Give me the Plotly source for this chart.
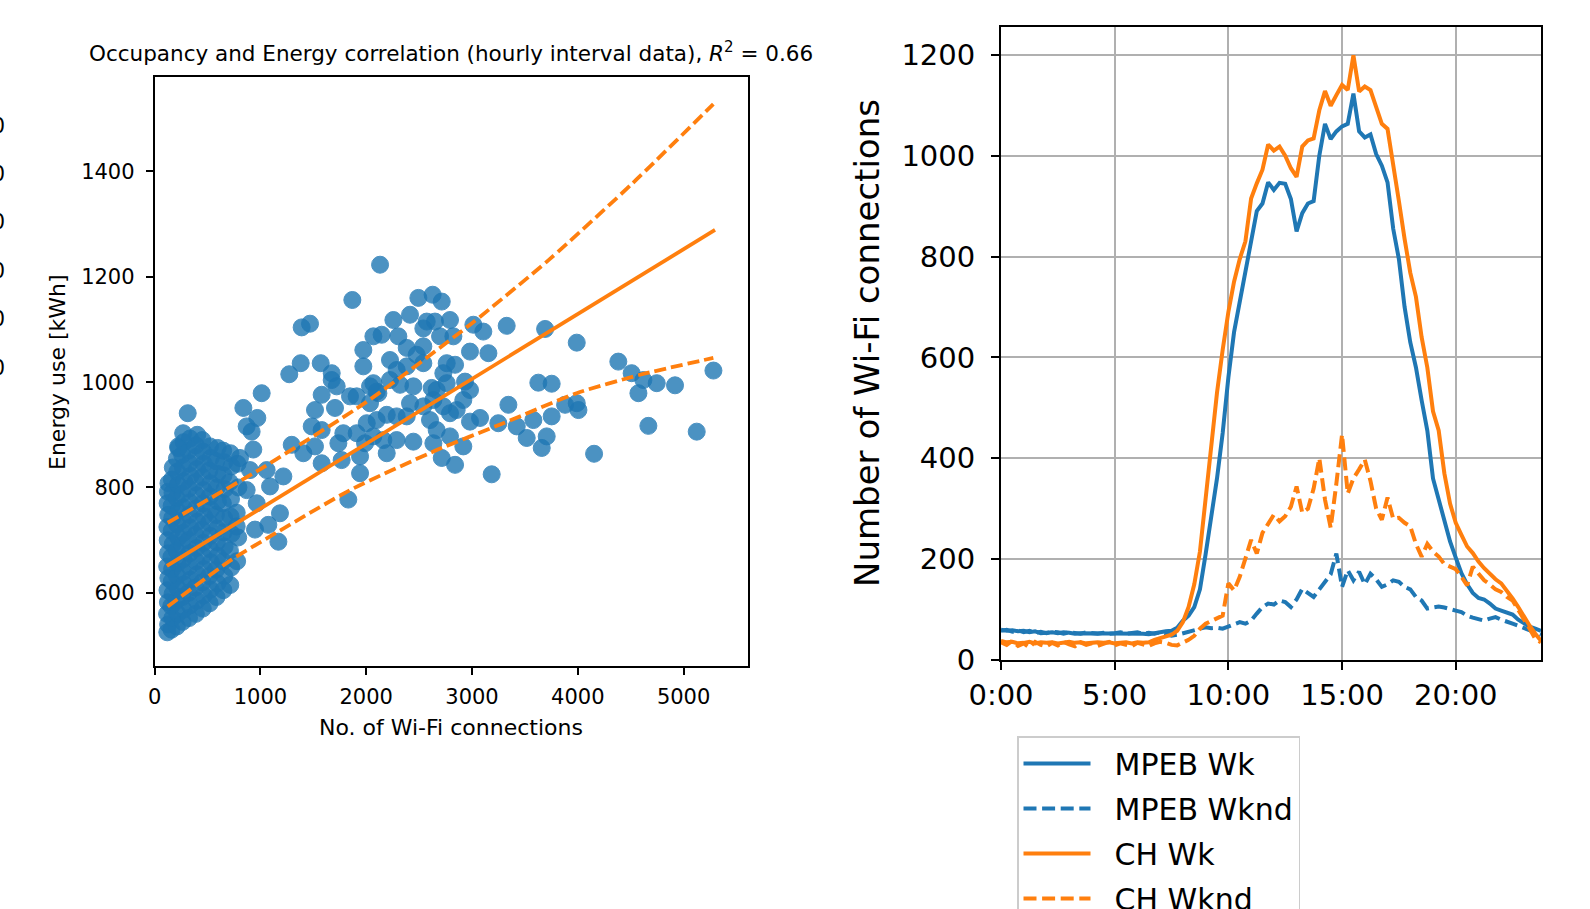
import plotly.graph_objects as go

# ---------------- Left panel: scatter (Wi-Fi connections vs energy) ----------------
wifi_conn = [
    # dense low-occupancy cluster
    120,128,118,126,122,130,119,127,124,121,129,123,126,131,
    160,168,158,170,163,166,159,171,162,167,161,169,164,172,
    210,218,206,222,213,217,209,224,212,219,208,221,215,211,223,
    265,274,262,278,268,271,260,276,266,273,263,279,269,261,275,270,
    325,334,322,338,328,331,320,336,327,333,324,339,329,321,335,
    390,399,386,402,393,397,388,404,391,398,387,401,394,389,403,
    455,464,452,467,458,462,450,468,457,463,453,466,459,451,
    520,529,517,532,523,527,515,533,522,528,518,531,524,
    585,594,582,597,588,592,580,598,587,593,583,596,
    650,659,647,662,653,657,645,663,652,658,648,
    715,724,712,727,718,722,710,728,717,
    780,790,776,792,784,
    # sparser points
    313,224,839,870,807,870,776,1170,
    2131,1869,1390,1469,1273,1381,1570,1674,1674,1012,971,917,933,1296,1406,1516,1579,1768,1737,1784,1942,1831,
    1485,1579,1516,1705,1579,1721,1847,1910,1973,2068,2115,1973,2068,2146,2257,2304,2414,2493,2628,2714,
    2572,2650,2792,2540,2698,2824,3013,3107,2981,3155,2383,2477,2540,2225,2288,2383,2540,2761,2840,2729,
    2225,2320,2446,2619,2761,2934,2981,3328,3691,3990,4383,4509,4620,4573,4746,4919,5282,3627,3753,4667,
    5124,4154,3186,3344,3880,3990,4006,3753,3580,3423,3517,3706,3659,3249,3076,2981,2918,2840,2714,2792,
    2635,2666,2603,2540,2414,2383,2288,2194,2099,2005,1910,1989,2068,2162,2194,2288,2446,1942,2918,2855,
    2792,2729,2635,2666,2036,2099,2036,902,1059,1217,1091,965,1185,1075,949,
]
energy_kwh = [
    525,540,560,582,605,628,650,675,700,725,748,770,792,808,
    530,552,575,598,622,645,668,692,718,742,765,790,815,838,
    536,560,585,608,632,656,680,705,730,755,780,805,830,855,878,
    545,568,592,616,640,664,690,714,738,762,788,812,838,862,886,903,
    552,576,600,625,650,675,700,724,748,772,798,822,846,870,893,
    560,585,610,635,660,685,710,735,760,785,810,835,858,880,900,
    570,595,620,645,670,695,720,745,770,795,820,845,868,890,
    580,606,632,658,683,708,733,758,783,808,832,856,878,
    592,618,644,670,696,722,748,774,800,826,850,875,
    605,632,660,688,715,742,770,797,823,848,870,
    615,648,680,712,745,778,810,840,865,
    660,705,752,800,845,
    941,875,951,916,856,795,726,697,
    1223,1156,1104,1111,1015,1036,1036,1017,1004,979,932,906,872,881,865,878,846,852,884,903,827,777,
    916,909,947,951,976,992,973,973,1030,998,979,1061,1087,1090,1118,1087,1128,1160,1166,1153,
    1115,1115,1118,1102,1087,1087,1109,1096,1058,1055,1065,1052,1068,1042,1023,1030,1036,1036,1033,1017,
    1004,995,992,989,998,1001,985,1107,1101,1075,1039,1017,1004,979,998,994,1022,999,997,917,
    906,864,825,957,957,960,947,935,928,916,894,897,875,922,932,925,878,843,856,897,
    884,909,928,954,960,935,935,938,928,922,903,884,897,890,865,890,887,859,966,947,
    941,954,966,985,960,982,992,833,833,821,802,770,751,729,720,
]

# regression line and dashed bands
fit_x = [116, 5297]
fit_y = [651, 1289]
upper_x = [124, 1000, 2000, 3000, 3737, 4525, 5281]
upper_y = [733, 835, 962, 1112, 1234, 1379, 1528]
lower_x = [124, 721, 1091, 1847, 2666, 3296, 3989, 4588, 5281]
lower_y = [574, 662, 707, 795, 871, 922, 979, 1014, 1046]

# ---------------- Right panel: daily Wi-Fi profiles (15-min steps) ----------------
hours = [i * 0.25 for i in range(96)]
time_ticks = [0, 5, 10, 15, 20]
time_labels = ["0:00", "5:00", "10:00", "15:00", "20:00"]

mpeb_wk = [
    60,58,59,57,58,55,57,53,54,55,53,55,54,52,53,53,
    52,52,52,53,52,52,53,52,53,52,51,53,56,57,58,64,
    78,88,105,140,210,280,360,450,560,650,710,765,831,890,905,947,
    932,946,944,914,850,886,905,910,1000,1063,1033,1048,1058,1063,1123,1048,
    1036,1042,1003,980,947,855,795,700,630,580,515,455,360,318,278,235,
    203,172,150,133,123,120,112,102,98,95,90,80,72,66,62,58,
]
mpeb_wknd = [
    58,60,56,59,55,58,54,56,53,56,55,52,55,54,52,55,
    53,52,54,52,53,55,52,53,55,52,54,52,55,52,48,50,
    53,56,60,62,65,63,64,62,66,72,75,72,78,92,105,112,
    110,118,115,105,120,141,132,125,140,155,170,211,145,178,158,175,
    150,171,160,145,150,158,155,145,140,125,118,102,104,106,104,100,
    98,95,88,84,80,78,82,85,80,75,72,68,64,60,54,50,
]
ch_wk = [
    38,35,36,33,34,36,33,35,34,35,33,35,36,34,35,33,
    34,35,34,35,33,34,35,33,35,34,35,40,44,46,50,58,
    75,105,150,215,320,425,530,615,690,750,795,830,915,945,972,1022,
    1010,1018,1000,975,958,1018,1030,1034,1090,1128,1099,1120,1140,1130,1199,1127,
    1137,1130,1096,1063,1053,975,910,835,768,720,640,580,493,455,370,310,
    272,248,225,212,195,182,170,160,152,138,122,105,85,68,52,38,
]
ch_wknd = [
    35,30,38,28,33,25,36,30,27,34,29,36,31,27,35,30,
    33,28,32,36,29,33,30,27,34,31,28,33,36,34,30,29,
    34,40,48,62,72,78,82,88,152,138,165,200,238,211,252,270,
    288,275,285,304,344,292,300,340,400,318,262,350,447,330,360,378,
    397,355,300,278,322,280,282,272,265,230,205,230,215,205,190,185,
    180,165,148,185,170,158,150,140,135,125,118,98,78,62,42,35,
]

BLUE = "#1f77b4"
ORANGE = "#ff7f0e"
FONT = "DejaVu Sans"
W = 1590          # page width
H = 945           # figure taller than the window so the legend runs off the bottom

fig = go.Figure()

fig.add_trace(go.Scatter(
    x=wifi_conn, y=energy_kwh, mode="markers", showlegend=False,
    marker=dict(size=17, color=BLUE, opacity=0.8, line=dict(width=1, color=BLUE)),
    xaxis="x", yaxis="y"))
fig.add_trace(go.Scatter(x=fit_x, y=fit_y, mode="lines", showlegend=False,
                         line=dict(color=ORANGE, width=3.8), xaxis="x", yaxis="y"))
for bx, by in [(upper_x, upper_y), (lower_x, lower_y)]:
    fig.add_trace(go.Scatter(x=bx, y=by, mode="lines", showlegend=False,
                             line=dict(color=ORANGE, width=3.8, dash="12px,5px",
                                       shape="spline", smoothing=0.6),
                             xaxis="x", yaxis="y"))

series = [
    ("MPEB Wk", mpeb_wk, BLUE, "solid"),
    ("MPEB Wknd", mpeb_wknd, BLUE, "13px,5.6px"),
    ("CH Wk", ch_wk, ORANGE, "solid"),
    ("CH Wknd", ch_wknd, ORANGE, "13px,5.6px"),
]
for name, vals, col, dash in series:
    fig.add_trace(go.Scatter(x=hours, y=vals, mode="lines", name="\u00a0\u00a0" + name,
                             legendgroup=name,
                             line=dict(color=col, width=4, dash=dash),
                             xaxis="x2", yaxis="y2"))


def px_x(p):
    return p / W


def px_y(p):
    return 1 - p / H


annotations = [
    dict(text="Occupancy and Energy correlation (hourly interval data), <i>R</i><sup>2</sup> = 0.66",
         x=px_x(451), y=px_y(52), xref="paper", yref="paper", showarrow=False,
         xanchor="center", yanchor="middle", font=dict(size=21.5, family=FONT, color="black")),
    dict(text="No. of Wi-Fi connections", x=px_x(451), y=px_y(727), xref="paper", yref="paper",
         showarrow=False, xanchor="center", yanchor="middle",
         font=dict(size=22, family=FONT, color="black")),
    dict(text="Energy use [kWh]", x=px_x(58), y=px_y(372), xref="paper", yref="paper",
         showarrow=False, xanchor="center", yanchor="middle", textangle=-90,
         font=dict(size=22, family=FONT, color="black")),
    dict(text="Number of Wi-Fi connections", x=px_x(867), y=px_y(343), xref="paper", yref="paper",
         showarrow=False, xanchor="center", yanchor="middle", textangle=-90,
         font=dict(size=34, family=FONT, color="black")),
]
# clipped tick labels of a neighbouring panel at the far-left edge
for yy in [126, 174, 222, 271, 319, 368]:
    annotations.append(dict(text="0", x=px_x(7), y=px_y(yy), xref="paper", yref="paper",
                            showarrow=False, xanchor="right", yanchor="middle",
                            font=dict(size=20.5, family=FONT, color="black")))

common_left = dict(ticks="outside", ticklen=7, tickwidth=1.5, tickcolor="black",
                   showline=True, mirror=True, linecolor="black", linewidth=1.6,
                   showgrid=False, zeroline=False, automargin=False,
                   tickfont=dict(size=21, family=FONT, color="black"))
common_right = dict(ticks="outside", ticklen=8, tickwidth=2, tickcolor="black",
                    showline=True, mirror=True, linecolor="black", linewidth=2,
                    showgrid=True, gridcolor="#b0b0b0", gridwidth=2, zeroline=False,
                    automargin=False, tickfont=dict(size=29, family=FONT, color="black"))

fig.update_layout(
    width=W, height=H,
    margin=dict(l=0, r=0, t=0, b=0, pad=0, autoexpand=False),
    paper_bgcolor="white", plot_bgcolor="white",
    font=dict(family=FONT, color="black"),
    annotations=annotations,
    xaxis=dict(domain=[154.6 / W, 747.5 / W], range=[0, 5604],
               tickvals=[0, 1000, 2000, 3000, 4000, 5000], ticklabelstandoff=4, **common_left),
    yaxis=dict(domain=[px_y(666), px_y(76.7)], range=[461, 1580],
               tickvals=[600, 800, 1000, 1200, 1400], ticklabelstandoff=7, **common_left),
    xaxis2=dict(domain=[1001 / W, 1541 / W], range=[0, 23.75], tickvals=time_ticks,
                ticktext=time_labels, anchor="y2", **common_right),
    yaxis2=dict(domain=[px_y(660), px_y(26.5)], range=[0, 1256],
                tickvals=[0, 200, 400, 600, 800, 1000, 1200], anchor="x2",
                ticklabelstandoff=10, **common_right),
    legend=dict(x=1017 / W, y=px_y(736), xanchor="left", yanchor="top",
                bgcolor="white", bordercolor="#cccccc", borderwidth=1.5,
                font=dict(size=30, family=FONT, color="black"), itemwidth=67,
                tracegroupgap=3),
)

fig.write_html("out.html", config={"displayModeBar": False},
               post_script="document.body.style.margin='0';document.body.style.overflow='hidden';"
                           "document.documentElement.style.overflow='hidden';")
